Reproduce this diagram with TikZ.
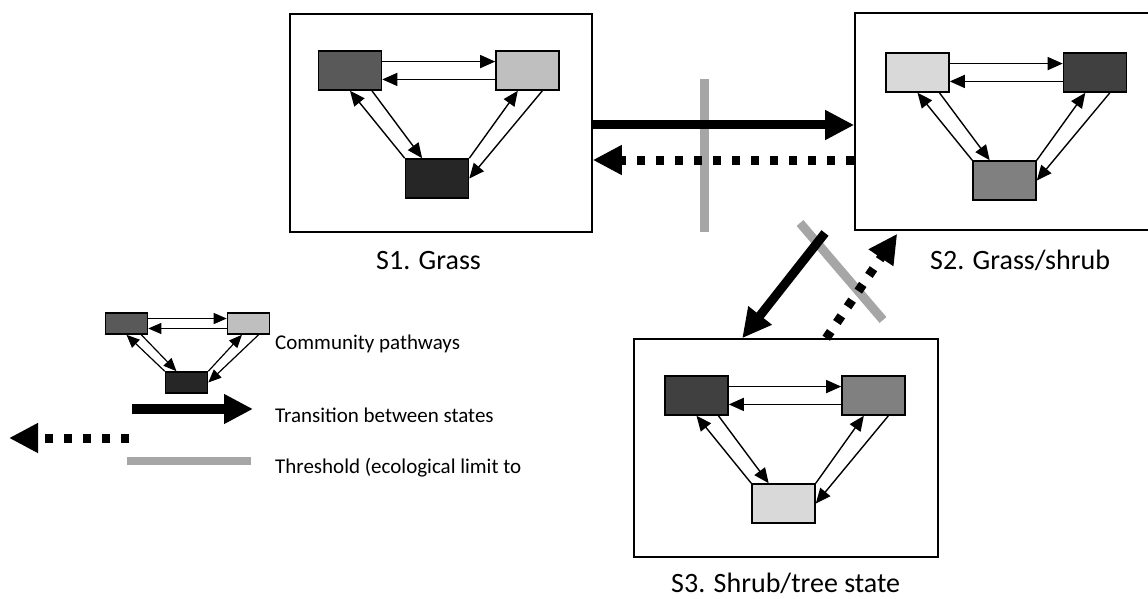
\documentclass[tikz,border=0pt]{standalone}
\usepackage{fontspec}
\setmainfont{Carlito}
\usetikzlibrary{arrows.meta,calc}

\definecolor{c26}{HTML}{262626}
\definecolor{c40}{HTML}{404040}
\definecolor{c59}{HTML}{595959}
\definecolor{c80}{HTML}{808080}
\definecolor{cbf}{HTML}{BFBFBF}
\definecolor{cd9}{HTML}{D9D9D9}
\definecolor{thrgray}{HTML}{A6A6A6}

% three communities and the pathways between them
\newcommand{\pathways}[7]{%
  \node [cbox,fill=#5] (#1a) at (#2) {};
  \node [cbox,fill=#6] (#1b) at (#3) {};
  \node [cbox,fill=#7] (#1c) at (#4) {};
  \draw [cpath] ($(#1a.north east)!0.28!(#1a.south east)$) -- ($(#1b.north west)!0.28!(#1b.south west)$);
  \draw [cpath] ($(#1b.north west)!0.72!(#1b.south west)$) -- ($(#1a.north east)!0.72!(#1a.south east)$);
  \draw [cpath] ($(#1a.south west)!0.84!(#1a.south east)$) -- ($(#1c.north west)!0.27!(#1c.north east)$);
  \draw [cpath] (#1c.north west) -- (#1a.south);
  \draw [cpath] (#1c.north east) -- ($(#1b.south west)!0.35!(#1b.south east)$);
  \draw [cpath] ($(#1b.south west)!0.73!(#1b.south east)$) -- (#1c.east);
}

\begin{document}
\begin{tikzpicture}[x=1pt,y=-1pt,
       state/.style={rectangle,draw,line width=1.6pt,inner sep=0},
       cbox/.style={rectangle,draw,line width=1.6pt,inner sep=0,minimum width=63pt,minimum height=39pt},
       cpath/.style={line width=1.4pt,-{Triangle[length=15pt,width=13pt]}},
       trans/.style={line width=9pt,-{Triangle[length=29pt,width=28pt]}},
       back/.style={trans,dash pattern=on 8pt off 11pt},
       thresh/.style={line width=9pt,draw=thrgray},
       lbl/.style={anchor=base west,inner sep=0,font=\fontsize{28}{34}\selectfont},
       legtxt/.style={anchor=base west,inner sep=0,font=\fontsize{21}{25}\selectfont}]
   \fill [white] (0,0) rectangle (1148,599);
   \useasboundingbox (0,0) rectangle (1148,599);

   % states
   \node [state,minimum width=302pt,minimum height=218pt] (s1) at (441,123) {};
   \node [state,minimum width=295pt,minimum height=217pt] (s2) at (1002.5,121.5) {};
   \node [state,minimum width=304pt,minimum height=218pt] (s3) at (786,448) {};

   \pathways{s1}{350,70.5}{527.5,70.5}{437,178.5}{c59}{cbf}{c26}
   \pathways{s2}{917.5,72.5}{1095,72.5}{1004.5,180.5}{cd9}{c40}{c80}
   \pathways{s3}{696.5,395.5}{873.5,395.5}{783.5,503.5}{c40}{c80}{cd9}

   \node [lbl] (l1) at (376,269) {S1. Grass};
   \node [lbl] (l2) at (930,269) {S2. Grass/shrub};
   \node [lbl] (l3) at (671,592) {S3. Shrub/tree state};

   % thresholds
   \draw [thresh] (704.5,79) -- (704.5,232);
   \draw [thresh] (800,223) -- (883,320);

   % transitions
   \draw [trans] ([yshift=-2pt]s1.east) -- ([yshift=-3.5pt]s2.west);
   \draw [back] ([yshift=-38.5pt]s2.west) -- ([yshift=-37pt]s1.east);
   \coordinate (t23) at (825,233);
   \draw [trans] (t23) -- ($(s3.north west)+(109,0)$);
   \coordinate (t32) at ($(s2.south west)+(43,3)$);
   \draw [back] ($(s3.north west)+(193,0)$) -- (t32);

   % legend
   \begin{scope}[cbox/.append style={minimum width=42pt,minimum height=21pt},
                 cpath/.style={line width=1.2pt,-{Triangle[length=13pt,width=11pt]}}]
     \pathways{lg}{126.5,323.5}{248.5,323.5}{186.5,382.5}{c59}{cbf}{c26}
   \end{scope}
   \coordinate (lt0) at (132,409);
   \coordinate (lt1) at (253,409);
   \draw [trans,line width=10pt] (lt0) -- (lt1);
   \coordinate (lb0) at (129,438);
   \coordinate (lb1) at (9,438);
   \draw [back] (lb0) -- (lb1);
   \coordinate (lh0) at (127,461);
   \coordinate (lh1) at (251,461);
   \draw [thresh,line width=8pt] (lh0) -- (lh1);
   \node [legtxt] (lgt1) at (275,349) {Community pathways};
   \node [legtxt] (lgt2) at (275,422) {Transition between states};
   \node [legtxt] (lgt3) at (275,473) {Threshold (ecological limit to};
\end{tikzpicture}
\end{document}
